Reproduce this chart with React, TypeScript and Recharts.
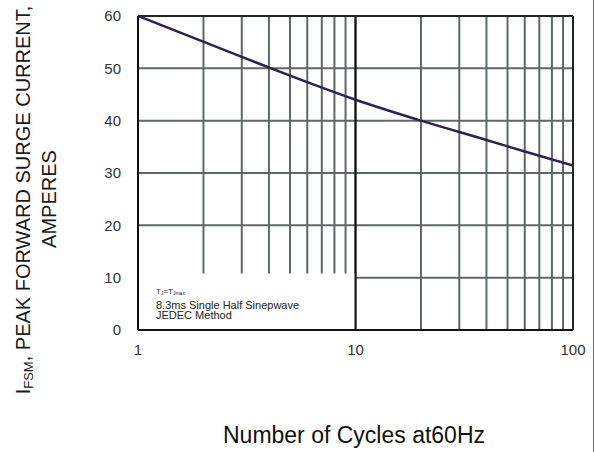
import { LineChart, Line, XAxis, YAxis, CartesianGrid, ReferenceLine, ReferenceArea } from 'recharts';

// cycles at 60Hz vs peak forward surge current (A)
const cycles = [1, 3, 5, 10, 20, 40, 60, 100];
const surgeCurrent = [60, 52.2, 48.6, 44, 40.0, 36.3, 34.1, 31.4];

const xTicks = [1, 2, 3, 4, 5, 6, 7, 8, 9, 10, 20, 30, 40, 50, 60, 70, 80, 90, 100];
const xLabels = [1, 10, 100];
const yTicks = [0, 10, 20, 30, 40, 50, 60];

const noteLines = ['8.3ms Single Half Sinepwave', 'JEDEC Method'];

const data = cycles.map((c, i) => ({ cycles: c, current: surgeCurrent[i] }));

const FONT = '"Liberation Sans", Arial, sans-serif';
const GRID = '#5f6767';

function NoteLabel(props: any) {
  const vb = props.viewBox || {};
  const x = vb.x + 18;
  const y = vb.y;
  return (
    <g fontFamily={FONT} fill="#222">
      <text x={x} y={y + 21} fontSize={8}>
        T<tspan fontSize={5} dy={1}>J</tspan>
        <tspan dy={-1}>=T</tspan>
        <tspan fontSize={5} dy={1}>Jmax</tspan>
      </text>
      <text x={x} y={y + 35.5} fontSize={11}>{noteLines[0]}</text>
      <text x={x} y={y + 46} fontSize={11}>{noteLines[1]}</text>
    </g>
  );
}

export default function App() {
  return (
    <div style={{ position: 'absolute', left: 0, top: 0, width: 595, height: 452, background: '#fff' }}>
      <LineChart width={595} height={452} data={data} margin={{ top: 16, right: 22, bottom: 0, left: 0 }}>
        <CartesianGrid stroke={GRID} strokeWidth={2} horizontalValues={yTicks} verticalValues={xTicks} />
        <XAxis
          dataKey="cycles"
          type="number"
          scale="log"
          domain={[1, 100]}
          allowDataOverflow
          ticks={xTicks}
          interval={0}
          tickFormatter={(v: number) => (xLabels.includes(v) ? String(v) : '')}
          height={122}
          tickLine={false}
          tickSize={0}
          tickMargin={14}
          axisLine={{ stroke: '#111', strokeWidth: 2 }}
          tick={{ fill: '#333', fontSize: 15, fontFamily: FONT }}
        />
        <YAxis
          type="number"
          domain={[0, 60]}
          ticks={yTicks}
          interval={0}
          width={138}
          tickLine={false}
          tickSize={0}
          tickMargin={17}
          axisLine={{ stroke: '#111', strokeWidth: 2 }}
          tick={{ fill: '#333', fontSize: 15, fontFamily: FONT }}
        />
        <ReferenceArea
          x1={1}
          x2={10}
          y1={0}
          y2={10.8}
          fill="#fff"
          fillOpacity={1}
          stroke="none"
          ifOverflow="hidden"
          label={(p: any) => <NoteLabel viewBox={p.viewBox} />}
        />
        <ReferenceLine x={10} stroke="#111" strokeWidth={2} />
        <ReferenceLine x={100} stroke="#222" strokeWidth={2} />
        <ReferenceLine y={60} stroke="#222" strokeWidth={2} />
        <Line
          type="monotone"
          dataKey="current"
          stroke="#2d2352"
          strokeWidth={2.5}
          dot={false}
          isAnimationActive={false}
        />
      </LineChart>
      <div
        style={{
          position: 'absolute', left: 24, top: 200, transform: 'translate(-50%, -50%) rotate(-90deg)',
          whiteSpace: 'nowrap', font: `20px ${FONT}`, color: '#1a1a1a', lineHeight: 1,
        }}
      >
        I<span style={{ fontSize: '0.65em', verticalAlign: '-0.25em' }}>FSM</span>, PEAK FORWARD SURGE CURRENT,
      </div>
      <div
        style={{
          position: 'absolute', left: 49, top: 199, transform: 'translate(-50%, -50%) rotate(-90deg)',
          whiteSpace: 'nowrap', font: `20px ${FONT}`, color: '#1a1a1a', lineHeight: 1,
        }}
      >
        AMPERES
      </div>
      <div
        style={{
          position: 'absolute', left: 354, top: 435, transform: 'translate(-50%, -50%)',
          whiteSpace: 'nowrap', font: `23px ${FONT}`, color: '#111', lineHeight: 1,
        }}
      >
        Number of Cycles at60Hz
      </div>
      <div style={{ position: 'absolute', left: 593, top: 0, width: 1, height: 452, background: '#666' }} />
    </div>
  );
}
